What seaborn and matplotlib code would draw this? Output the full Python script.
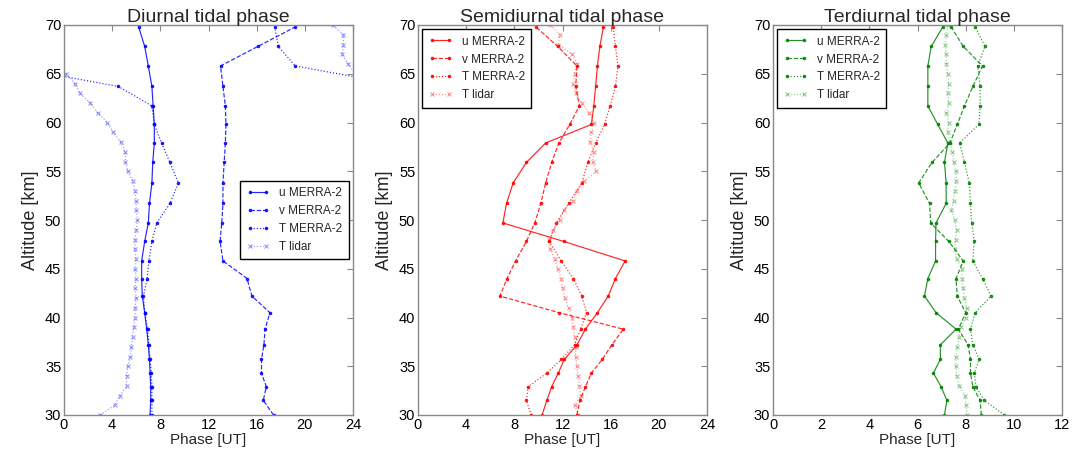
import matplotlib
matplotlib.use("Agg")
import matplotlib.pyplot as plt
import seaborn as sns

# ---------------- data ----------------
# MERRA-2 levels (km) and lidar levels (km)
merra_alt = [30.0, 31.5, 32.9, 34.3, 35.7, 37.2, 38.8, 40.5, 42.2, 44.0, 45.8, 47.8,
             49.7, 51.7, 53.8, 55.9, 57.9, 59.8, 61.7, 63.7, 65.8, 67.8, 69.8, 71.6]
lidar_alt = list(range(30, 71))

series_labels = ["u MERRA-2", "v MERRA-2", "T MERRA-2", "T lidar"]

# Diurnal phases [UT] (phase values outside 0-24 are wrapped when drawn)
diurnal_u = [7.15, 7.2, 7.2, 7.15, 7.1, 7.0, 6.87, 6.7, 6.5, 6.45, 6.45, 6.7,
             7.0, 7.1, 7.3, 7.37, 7.5, 7.5, 7.4, 7.3, 7.0, 6.7, 6.2, 5.8]
diurnal_v = [17.4, 16.55, 16.8, 16.4, 16.4, 16.6, 16.7, 17.1, 15.6, 15.2, 13.2, 12.96,
             13.1, 13.2, 13.2, 13.3, 13.4, 13.45, 13.4, 13.2, 13.0, 16.1, 19.2, 21.5]
diurnal_T = [7.3, 7.3, 7.3, 7.25, 7.15, 7.05, 6.95, 6.7, 6.6, 6.9, 7.05, 7.3,
             7.7, 8.8, 9.5, 8.8, 8.1, 7.5, 7.3, 4.5, -4.8, -6.2, -6.5, -6.7]
diurnal_lidar = [3.0, 4.2, 4.65, 5.2, 5.2, 5.3, 5.5, 5.6, 5.7, 5.8,
                 5.9, 5.9, 6.0, 5.9, 6.0, 5.9, 6.0, 5.9, 5.9, 6.0,
                 6.1, 6.0, 6.0, 5.9, 5.7, 5.3, 5.1, 5.1, 4.7, 4.1,
                 3.6, 2.8, 2.2, 1.3, 0.9, 0.2, -0.4, -0.9, -0.8, -0.8, -1.7]

# Semidiurnal phases [UT]
semi_u = [10.3, 10.7, 11.1, 11.65, 12.15, 13.2, 13.9, 14.9, 15.8, 16.4, 17.2, 12.1,
          7.05, 7.35, 7.9, 9.0, 10.6, 14.4, 14.6, 14.75, 14.9, 15.1, 15.4, 15.6]
semi_v = [13.2, 13.45, 13.9, 14.4, 15.3, 16.1, 17.05, 11.7, 6.8, 7.4, 8.1, 9.0,
          9.7, 10.2, 10.6, 11.1, 11.7, 12.6, 13.4, 13.1, 13.2, 11.6, 9.8, 8.5]
semi_T = [9.4, 9.0, 9.15, 10.7, 11.9, 13.0, 13.5, 14.0, 13.6, 12.9, 11.9, 10.9,
          11.5, 12.5, 13.6, 14.1, 14.75, 15.5, 15.95, 16.4, 16.6, 16.4, 16.2, 16.0]
semi_lidar = [13.3, 13.0, 13.5, 13.4, 13.3, 13.2, 13.1, 13.1, 13.0, 12.9,
              12.8, 12.5, 12.2, 12.0, 11.9, 11.6, 11.35, 11.0, 10.9, 11.2,
              11.8, 12.1, 12.9, 13.2, 13.8, 14.8, 14.5, 14.6, 14.3, 14.4,
              14.6, 14.2, 13.6, 13.1, 12.9, 13.0, 13.2, 12.8, 11.65, 11.8, 11.0]

# Terdiurnal phases [UT]
ter_u = [7.12, 7.22, 6.98, 6.66, 6.95, 6.95, 7.6, 6.77, 6.29, 6.43, 6.75, 6.75,
         6.77, 7.19, 7.19, 7.12, 7.26, 6.84, 6.43, 6.43, 6.43, 6.57, 7.05, 7.5]
ter_v = [8.65, 8.6, 8.3, 8.2, 8.2, 8.1, 7.7, 8.0, 7.65, 7.6, 7.9, 7.3,
         6.55, 6.5, 6.05, 6.6, 7.35, 7.65, 7.95, 8.3, 8.7, 7.9, 7.4, 7.0]
ter_T = [9.6, 8.77, 8.43, 8.36, 8.56, 8.3, 8.2, 8.4, 9.05, 8.7, 8.29, 8.36,
         8.25, 8.2, 8.15, 7.95, 7.75, 8.55, 8.6, 8.6, 8.5, 8.8, 8.4, 8.1]
ter_lidar = [8.05, 8.02, 7.97, 7.74, 7.62, 7.6, 7.6, 7.66, 7.72, 7.8,
             8.0, 8.05, 7.95, 7.9, 7.85, 7.85, 7.62, 7.55, 7.58, 7.62,
             7.55, 7.4, 7.5, 7.55, 7.6, 7.6, 7.5, 7.45, 7.35, 7.25,
             7.3, 7.2, 7.3, 7.25, 7.3, 7.25, 7.2, 7.2, 7.15, 7.2, 7.25]

titles = ["Diurnal tidal phase", "Semidiurnal tidal phase", "Terdiurnal tidal phase"]
periods = [24, 24, 12]
xticks = [list(range(0, 25, 4)), list(range(0, 25, 4)), list(range(0, 13, 2))]
yticks = list(range(30, 71, 5))

# ---------------- style ----------------
sns.set_style("white")
plt.rcParams["font.family"] = ["Liberation Sans", "DejaVu Sans"]

colors = ["#0000ff", "#ff0000", "#008000"]
linestyles = ["-", "--", ":", ":"]
markers = [".", ".", ".", "x"]
alphas = [0.85, 0.85, 0.85, 0.4]
legend_locs = ["center right", "upper left", "upper left"]

panel_series = [
    [diurnal_u, diurnal_v, diurnal_T, diurnal_lidar],
    [semi_u, semi_v, semi_T, semi_lidar],
    [ter_u, ter_v, ter_T, ter_lidar],
]

fig = plt.figure(figsize=(10.75, 4.54), dpi=100)
W, H = 1075.0, 454.0
lefts = [64 / W, 418 / W, 773 / W]
ax_w = 289 / W
ax_b = 1 - 415 / H
ax_h = 390 / H

for i in range(3):
    ax = fig.add_axes([lefts[i], ax_b, ax_w, ax_h])
    col = colors[i]
    per = periods[i]
    for j, phase in enumerate(panel_series[i]):
        alt = lidar_alt if markers[j] == "x" else merra_alt
        for k, shift in enumerate((0, per, -per)):
            xs = [v + shift for v in phase]
            sns.lineplot(x=xs, y=alt, ax=ax, sort=False, estimator=None,
                         color=col, linestyle=linestyles[j], linewidth=0.85,
                         marker=markers[j], markersize=3.5,
                         mec=col, mfc=col, mew=0.8, alpha=alphas[j],
                         label=series_labels[j] if k == 0 else None,
                         legend=False)
    ax.set_xlim(0, per)
    ax.set_ylim(30, 70)
    ax.set_xticks(xticks[i])
    ax.set_yticks(yticks)
    ax.tick_params(direction="in", length=4, width=0.8, top=True, right=True,
                   labelsize=10.5, pad=2, colors="#888888", labelcolor="black")
    for sp in ax.spines.values():
        sp.set_color("#888888")
        sp.set_linewidth(1.0)
    ax.set_title(titles[i], fontsize=14, pad=2)
    ax.set_xlabel("Phase [UT]", fontsize=11, labelpad=1)
    ax.set_ylabel("Altitude [km]", fontsize=13, labelpad=4)
    ax.legend(loc=legend_locs[i], numpoints=2, fontsize=8.5, frameon=True,
              fancybox=False, edgecolor="black", framealpha=1,
              borderpad=0.55, labelspacing=0.5, handlelength=2.0,
              handletextpad=0.8, borderaxespad=0.35)

fig.savefig("out.png", dpi=100)
